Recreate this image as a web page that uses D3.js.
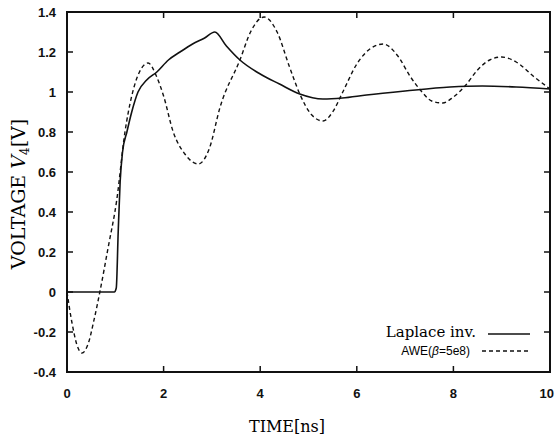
<!DOCTYPE html>
<html>
<head>
<meta charset="utf-8">
<script src="https://cdn.jsdelivr.net/npm/d3@7"></script>
<style>
  body { margin: 0; background: #fff; }
  .tick-num { font-family: "Liberation Sans", Arial, sans-serif; font-weight: bold; font-size: 13px; fill: #111; }
  .axis-label { font-family: "DejaVu Serif", serif; font-size: 16px; }
</style>
</head>
<body>
<div id="canvas"></div>
<script>
"use strict";

let svgWidth = 556;
let svgHeight = 438;

/* Data */
// Laplace inversion (solid)
let laplaceT = [0, 0.98, 1.02, 1.06, 1.1, 1.15, 1.24, 1.34, 1.47, 1.65, 1.86, 2.1, 2.34, 2.6, 2.85, 3.06,
  3.3, 3.58, 4.0, 4.4, 4.82, 5.3, 5.7, 6.2, 7.0, 7.93, 8.6, 9.3, 10];
let laplaceV = [0, 0, 0.02, 0.3, 0.55, 0.7, 0.8, 0.9, 1.0, 1.06, 1.1, 1.16, 1.2, 1.24, 1.27, 1.3,
  1.23, 1.16, 1.09, 1.04, 0.99, 0.965, 0.97, 0.985, 1.005, 1.025, 1.03, 1.025, 1.015];

// AWE, beta = 5e8 (dashed)
let aweT = [0, 0.1, 0.2, 0.31, 0.45, 0.55, 0.68, 0.85, 1.03, 1.2, 1.34, 1.5, 1.68, 1.85, 2.0, 2.2, 2.44,
  2.72, 2.95, 3.17, 3.58, 3.8, 4.08, 4.35, 4.6, 4.82, 5.05, 5.3, 5.5, 5.71, 6.0, 6.3, 6.55, 6.85,
  7.1, 7.35, 7.55, 7.78, 8.0, 8.24, 8.5, 8.75, 9.0, 9.3, 9.65, 10];
let aweV = [0, -0.15, -0.26, -0.305, -0.25, -0.15, 0, 0.22, 0.46, 0.8, 0.98, 1.1, 1.145, 1.08, 0.98, 0.8, 0.69,
  0.64, 0.72, 0.925, 1.16, 1.3, 1.375, 1.3, 1.13, 0.99, 0.89, 0.855, 0.9, 1.0, 1.14, 1.22, 1.24, 1.18,
  1.08, 1.0, 0.955, 0.945, 0.975, 1.03, 1.11, 1.16, 1.175, 1.15, 1.08, 1.015];

let xTicks = [0, 2, 4, 6, 8, 10];
let yTicks = [-0.4, -0.2, 0, 0.2, 0.4, 0.6, 0.8, 1, 1.2, 1.4];

/* Plot box */
let boxLeft = 67, boxRight = 550, boxTop = 12, boxBottom = 372;

let svg = d3.select("#canvas")
  .append("svg")
  .attr("width", svgWidth)
  .attr("height", svgHeight);

let xScale = d3.scaleLinear().domain([0, 10]).range([boxLeft, boxRight]);
let yScale = d3.scaleLinear().domain([-0.4, 1.4]).range([boxBottom, boxTop]);

/* Frame */
svg.append("rect")
  .attr("x", xScale(0))
  .attr("y", yScale(1.4))
  .attr("width", xScale(10) - xScale(0))
  .attr("height", yScale(-0.4) - yScale(1.4))
  .attr("fill", "none")
  .attr("stroke", "#111")
  .attr("stroke-width", 2);

/* Ticks pointing inwards on all four sides */
let tickLen = 6;
svg.append("g").selectAll("line")
  .data(xTicks)
  .join("line")
  .attr("x1", d => xScale(d)).attr("x2", d => xScale(d))
  .attr("y1", boxBottom).attr("y2", boxBottom - tickLen)
  .attr("stroke", "#111").attr("stroke-width", 1.5);
svg.append("g").selectAll("line")
  .data(xTicks)
  .join("line")
  .attr("x1", d => xScale(d)).attr("x2", d => xScale(d))
  .attr("y1", boxTop).attr("y2", boxTop + tickLen)
  .attr("stroke", "#111").attr("stroke-width", 1.5);
svg.append("g").selectAll("line")
  .data(yTicks)
  .join("line")
  .attr("x1", boxLeft).attr("x2", boxLeft + tickLen)
  .attr("y1", d => yScale(d)).attr("y2", d => yScale(d))
  .attr("stroke", "#111").attr("stroke-width", 1.5);
svg.append("g").selectAll("line")
  .data(yTicks)
  .join("line")
  .attr("x1", boxRight).attr("x2", boxRight - tickLen)
  .attr("y1", d => yScale(d)).attr("y2", d => yScale(d))
  .attr("stroke", "#111").attr("stroke-width", 1.5);

/* Tick labels ("10" sits against the right edge) */
svg.append("g").selectAll("text")
  .data(xTicks)
  .join("text")
  .attr("x", d => d === 10 ? xScale(d) + 4 : xScale(d))
  .attr("y", 398)
  .attr("text-anchor", d => d === 10 ? "end" : "middle")
  .classed("tick-num", true)
  .text(d => d);

svg.append("g").selectAll("text")
  .data(yTicks)
  .join("text")
  .attr("x", 56)
  .attr("y", d => yScale(d) + 5)
  .attr("text-anchor", "end")
  .classed("tick-num", true)
  .text(d => d);

/* Curves */
let laplaceData = laplaceT.map((t, i) => ({ t: t, v: laplaceV[i] }));
let aweData = aweT.map((t, i) => ({ t: t, v: aweV[i] }));

let curveLine = d3.line()
  .x(d => xScale(d.t))
  .y(d => yScale(d.v))
  .curve(d3.curveMonotoneX);

svg.append("path")
  .datum(laplaceData)
  .attr("fill", "none")
  .attr("stroke", "#111")
  .attr("stroke-width", 1.6)
  .attr("d", curveLine);

svg.append("path")
  .datum(aweData)
  .attr("fill", "none")
  .attr("stroke", "#111")
  .attr("stroke-width", 1.4)
  .attr("stroke-dasharray", "4,3")
  .attr("d", curveLine);

/* Axis labels */
svg.append("text")
  .attr("x", 287)
  .attr("y", 432)
  .attr("text-anchor", "middle")
  .classed("axis-label", true)
  .text("TIME[ns]");

let yLab = svg.append("text")
  .attr("transform", "translate(25,194) rotate(-90)")
  .attr("text-anchor", "middle")
  .classed("axis-label", true)
  .style("font-size", "19px");
yLab.append("tspan").text("VOLTAGE ");
yLab.append("tspan").attr("font-style", "italic").text("V");
yLab.append("tspan").style("font-size", "12px").attr("dy", 4).text("4");
yLab.append("tspan").attr("dy", -4).text("[V]");

/* Legend */
svg.append("text")
  .attr("x", 476)
  .attr("y", 337)
  .attr("text-anchor", "end")
  .attr("font-family", "DejaVu Serif, serif")
  .attr("font-size", "15px")
  .text("Laplace inv.");

svg.append("line")
  .attr("x1", 488).attr("x2", 530)
  .attr("y1", 334).attr("y2", 334)
  .attr("stroke", "#111").attr("stroke-width", 1.5);

let aweLab = svg.append("text")
  .attr("x", 470)
  .attr("y", 355)
  .attr("text-anchor", "end")
  .attr("font-family", "Liberation Sans, Arial, sans-serif")
  .attr("font-size", "12px");
aweLab.append("tspan").text("AWE(");
aweLab.append("tspan").attr("font-style", "italic").text("β");
aweLab.append("tspan").text("=5e8)");

svg.append("line")
  .attr("x1", 482).attr("x2", 530)
  .attr("y1", 351).attr("y2", 351)
  .attr("stroke", "#111").attr("stroke-width", 1.3)
  .attr("stroke-dasharray", "4,3");
</script>
</body>
</html>
